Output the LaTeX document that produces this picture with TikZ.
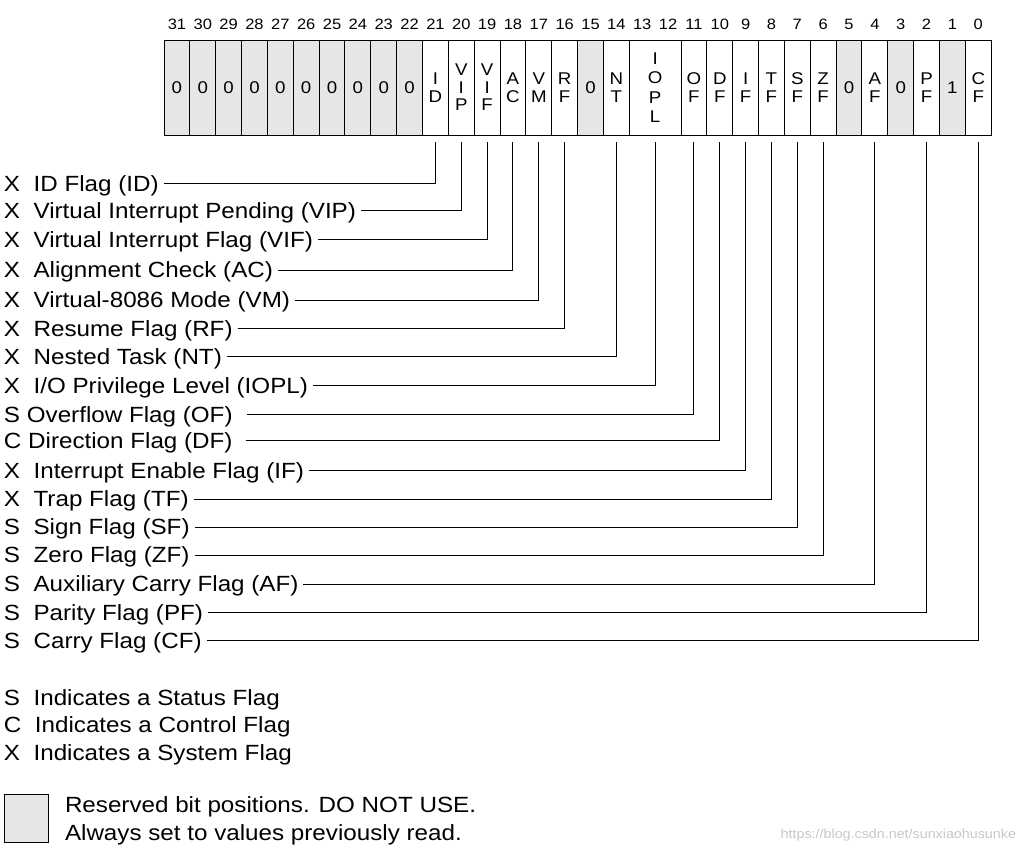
\documentclass[tikz,border=0pt]{standalone}
\usepackage{fontspec}
\setmainfont{Liberation Sans}[FakeStretch=1.1]
\usetikzlibrary{positioning}
\definecolor{rsvgray}{RGB}{230,230,230}

\begin{document}
\begin{tikzpicture}[
    x=1pt, y=-1pt,
    every node/.style={inner sep=0pt, outer sep=0pt},
    bitcell/.style={rectangle, draw, line width=0.9pt, minimum width=25.85pt,
      minimum height=95pt, align=center, font=\fontsize{17}{17.5}\selectfont},
    rsv/.style={bitcell, fill=rsvgray},
    bitnum/.style={font=\fontsize{15}{16}\selectfont},
    flaglbl/.style={anchor=west, text height=15.75pt, text depth=0pt,
      font=\fontsize{22}{28}\selectfont},
    wire/.style={line width=1pt, shorten <=5pt}
]
\useasboundingbox (0,0) rectangle (1025,853);

% EFLAGS register
\node[rsv] (b31) at (176.9,87.5) {0};
\foreach \b [evaluate=\b as \p using int(\b+1)] in {30,...,22}
  \node[rsv, right=0pt of b\p] (b\b) {0};
\node[bitcell, right=0pt of b22] (b21) {I\\D};
\node[bitcell, right=0pt of b21] (b20) {V\\I\\P};
\node[bitcell, right=0pt of b20] (b19) {V\\I\\F};
\node[bitcell, right=0pt of b19] (b18) {A\\C};
\node[bitcell, right=0pt of b18] (b17) {V\\M};
\node[bitcell, right=0pt of b17] (b16) {R\\F};
\node[rsv, right=0pt of b16] (b15) {0};
\node[bitcell, right=0pt of b15] (b14) {N\\T};
\node[bitcell, minimum width=51.7pt, font=\fontsize{17}{19.5}\selectfont,
  right=0pt of b14] (iopl) {I\\O\\P\\L};
\node[bitcell, right=0pt of iopl] (b11) {O\\F};
\node[bitcell, right=0pt of b11] (b10) {D\\F};
\node[bitcell, right=0pt of b10] (b9) {I\\F};
\node[bitcell, right=0pt of b9] (b8) {T\\F};
\node[bitcell, right=0pt of b8] (b7) {S\\F};
\node[bitcell, right=0pt of b7] (b6) {Z\\F};
\node[rsv, right=0pt of b6] (b5) {0};
\node[bitcell, right=0pt of b5] (b4) {A\\F};
\node[rsv, right=0pt of b4] (b3) {0};
\node[bitcell, right=0pt of b3] (b2) {P\\F};
\node[rsv, right=0pt of b2] (b1) {1};
\node[bitcell, right=0pt of b1] (b0) {C\\F};

% bit numbers
\foreach \b in {31,...,0}
  \node[bitnum] (n\b) at ({164+(31.5-\b)*25.85},24) {\b};

% flag names
\node[flaglbl] (idl) at (4,183.3) {X\ \ ID Flag (ID)};
\node[flaglbl] (vipl) at (4,211) {X\ \ Virtual Interrupt Pending (VIP)};
\node[flaglbl] (vifl) at (4,239.3) {X\ \ Virtual Interrupt Flag (VIF)};
\node[flaglbl] (acl) at (4,270) {X\ \ Alignment Check (AC)};
\node[flaglbl] (vml) at (4,300) {X\ \ Virtual-8086 Mode (VM)};
\node[flaglbl] (rfl) at (4,328.3) {X\ \ Resume Flag (RF)};
\node[flaglbl] (ntl) at (4,356.7) {X\ \ Nested Task (NT)};
\node[flaglbl] (iopll) at (4,385.3) {X\ \ I/O Privilege Level (IOPL)};
\node[flaglbl] (ofl) at (4,414.3) {S Overflow Flag (OF)};
\node[flaglbl] (dfl) at (4,440.7) {C Direction Flag (DF)};
\node[flaglbl] (ifl) at (4,470.3) {X\ \ Interrupt Enable Flag (IF)};
\node[flaglbl] (tfl) at (4,499) {X\ \ Trap Flag (TF)};
\node[flaglbl] (sfl) at (4,527) {S\ \ Sign Flag (SF)};
\node[flaglbl] (zfl) at (4,555) {S\ \ Zero Flag (ZF)};
\node[flaglbl] (afl) at (4,584) {S\ \ Auxiliary Carry Flag (AF)};
\node[flaglbl] (pfl) at (4,612.7) {S\ \ Parity Flag (PF)};
\node[flaglbl] (cfl) at (4,640.7) {S\ \ Carry Flag (CF)};

% leader lines
\draw[wire] (idl.east) -| ([yshift=-7pt]b21.south);
\draw[wire] (vipl.east) -| ([yshift=-7pt]b20.south);
\draw[wire] (vifl.east) -| ([yshift=-7pt]b19.south);
\draw[wire] (acl.east) -| ([yshift=-7pt]b18.south);
\draw[wire] (vml.east) -| ([yshift=-7pt]b17.south);
\draw[wire] (rfl.east) -| ([yshift=-7pt]b16.south);
\draw[wire] (ntl.east) -| ([yshift=-7pt]b14.south);
\draw[wire] (iopll.east) -| ([yshift=-7pt]iopl.south);
\draw[wire, shorten <=14pt] (ofl.east) -| ([yshift=-7pt]b11.south);
\draw[wire, shorten <=13pt] (dfl.east) -| ([yshift=-7pt]b10.south);
\draw[wire] (ifl.east) -| ([yshift=-7pt]b9.south);
\draw[wire] (tfl.east) -| ([yshift=-7pt]b8.south);
\draw[wire] (sfl.east) -| ([yshift=-7pt]b7.south);
\draw[wire] (zfl.east) -| ([yshift=-7pt]b6.south);
\draw[wire] (afl.east) -| ([yshift=-7pt]b4.south);
\draw[wire] (pfl.east) -| ([yshift=-7pt]b2.south);
\draw[wire] (cfl.east) -| ([yshift=-7pt]b0.south);

% legend
\node[flaglbl] (sleg) at (4,697.5) {S\ \ Indicates a Status Flag};
\node[flaglbl] (cleg) at (4,724.5) {C\ \ Indicates a Control Flag};
\node[flaglbl] (xleg) at (4,753) {X\ \ Indicates a System Flag};
\node[draw, line width=0.9pt, fill=rsvgray, minimum width=44pt,
  minimum height=48pt] (key) at (26,818) {};
\node[flaglbl] (rsvtxt) at (65,805) {Reserved bit positions. DO NOT USE.};
\node[flaglbl] (rsvtxt2) at (65,833) {Always set to values previously read.};
\node[anchor=east, font=\fontsize{13}{15}\selectfont, text=black!22]
  (mark) at (1016,835) {https://blog.csdn.net/sunxiaohusunke};
\end{tikzpicture}
\end{document}
